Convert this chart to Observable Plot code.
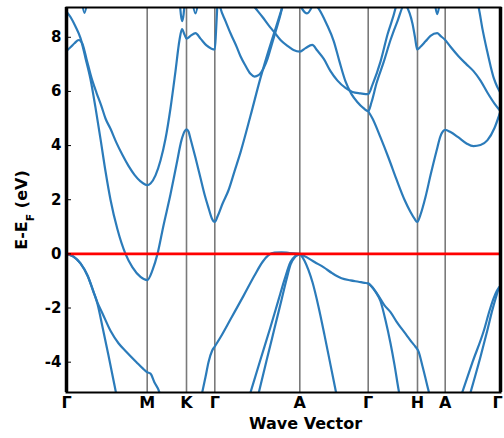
<!DOCTYPE html>
<html>
<head>
<meta charset="utf-8">
<script src="https://cdn.jsdelivr.net/npm/d3@7"></script>
<script src="https://cdn.jsdelivr.net/npm/@observablehq/plot@0.6"></script>
<style>
  html, body { margin: 0; padding: 0; background: #fff; }
  #chart { width: 504px; height: 438px; }
</style>
</head>
<body>
<div id="chart"></div>
<script>
// High-symmetry points along the path (k distance) and their labels
const symK = [0, 80.7, 120, 148.3, 233.3, 301.7, 351, 378.7, 434];
const symLabels = ["Γ", "M", "K", "Γ", "A", "Γ", "H", "A", "Γ"];
const yTicks = [-4, -2, 0, 2, 4, 6, 8];

// Valence bands [k, E-EF]
const band_v1 = [[0,0],[7,-0.1],[14,-0.35],[21,-0.8],[27,-1.4],[31,-1.85],[36,-2.7],[42,-3.75],[48,-4.85],[52,-5.6]];
const band_v2 = [[0,0],[7,-0.1],[14,-0.35],[21,-0.8],[27,-1.4],[31,-1.8],[36,-2.2],[44,-2.84],[52,-3.3],[60,-3.62],[70,-4.0],[76,-4.22],[80.7,-4.37],[84,-4.42],[88,-4.75],[92.3,-5.05],[95,-5.4]];
const band_v3 = [[135.7,-5.12],[139,-4.55],[142,-4.0],[145.7,-3.57],[148.3,-3.42],[154,-3.08],[165,-2.35],[177,-1.55],[188,-0.8],[196,-0.3],[202,-0.05],[208,0.05],[215,0.06],[223,0.03],[233.3,0]];
const band_v4 = [[184,-5.12],[194,-3.9],[204,-2.7],[212,-1.7],[218,-0.95],[224,-0.3],[229,-0.07],[233.3,0]];
const band_v5 = [[192.3,-5.12],[200,-3.95],[208,-2.75],[215,-1.7],[220,-0.95],[224,-0.4],[229,-0.1],[233.3,0]];
const band_v6 = [[233.3,0],[238,-0.25],[242,-0.6],[246,-1.05],[252,-1.95],[258,-3.0],[264,-4.1],[270,-5.2]];
const band_v7 = [[233.3,0],[240,-0.12],[248,-0.3],[257.3,-0.5],[266,-0.72],[275,-0.9],[284,-0.98],[292,-1.03],[298,-1.07],[301.7,-1.09],[305,-1.2],[312,-1.55],[318,-1.9],[324,-2.15],[330,-2.5],[340,-3.0],[345,-3.25],[349,-3.43],[352,-3.6],[356,-4.15],[362,-5.05],[365,-5.5]];
const band_v8 = [[301.7,-1.09],[305,-1.2],[309,-1.4],[314,-1.75],[319,-2.45],[324,-3.3],[328,-4.1],[332,-5.0],[334,-5.4]];
const band_v9 = [[395.7,-5.12],[406,-4.0],[417.3,-2.84],[423,-2.1],[427,-1.65],[430.5,-1.35],[434,-1.18]];
const band_v10 = [[404,-5.12],[414,-3.8],[421,-2.8],[426,-2.05],[429.5,-1.6],[432,-1.3],[434,-1.18]];

// Conduction bands [k, E-EF]
const band_c1 = [[0,8.95],[4,8.75],[9,8.4],[14,7.97],[19,7.23],[24,6.45],[29,5.4],[34,4.25],[39,3.05],[44,2.0],[51,0.9],[59,0.0],[66,-0.5],[74,-0.85],[80.7,-0.97],[86,-0.6],[91,0.0],[97,1.05],[104,2.2],[110,3.3],[115,4.2],[118,4.52],[120,4.6],[122,4.52],[124,4.25],[129,3.55],[134,2.8],[138,2.2],[142,1.7],[145.5,1.3],[148.3,1.18],[151,1.38],[156,1.85],[162,2.35],[168,3.05],[174,3.75],[184,5.1],[194,6.5],[202,7.5],[208,8.2],[214,8.9],[219,9.5]];
const band_c2 = [[0,7.5],[4,7.63],[8,7.78],[12.3,7.9],[15.7,7.78],[20,7.2],[25,6.5],[30,5.95],[35,5.45],[39,5.0],[44,4.62],[50,4.1],[56,3.65],[62,3.25],[68,2.92],[74,2.68],[80.7,2.54],[84,2.6],[89,2.9],[94,3.45],[99,4.25],[104,5.38],[109,6.75],[113,7.9],[115.5,8.3],[118,8.1],[120,7.95],[124,8.05],[129,8.15],[134,7.95],[140,7.7],[145,7.58],[148.3,7.55],[149.5,8.2],[151,9.3]];
const band_c3 = [[152,9.4],[154,9.07],[159,8.6],[164,8.15],[170.7,7.6],[174,7.3],[179,6.95],[184,6.65],[188,6.55],[192,6.6],[197,6.85],[201,7.2],[205,7.7],[209,8.2],[213,8.7],[217,9.3]];
const band_c4 = [[184,9.3],[189,9.07],[196,8.75],[202,8.45],[207.3,8.21],[214,7.9],[221,7.68],[227,7.53],[233.3,7.47],[239,7.6],[245.7,7.72],[251,7.5],[257.3,7.2],[264,6.75],[271,6.4],[279,6.13],[286,5.98],[294,5.93],[301.7,5.9],[306,6.25],[314,7.1],[321,8.1],[329,9.07],[331,9.4]];
const band_c5 = [[246,9.3],[252.3,9.05],[260,8.5],[267.3,7.85],[273,7.1],[279,6.37],[285,5.9],[291,5.6],[297,5.38],[301.7,5.27],[305,5.6],[310,6.3],[317.3,7.1],[324,7.9],[331,8.6],[338,9.2],[343,8.9],[346,8.5],[348.5,8.0],[350.7,7.55],[354,7.65],[359,7.85],[364,8.05],[370.7,8.15],[374,8.05],[378.7,7.9],[384,7.65],[392,7.3],[400,7.0],[407,6.75],[414,6.4],[421,5.95],[428,5.55],[434,5.27]];
const band_c6 = [[301.7,5.27],[306,5.0],[314,4.3],[322,3.55],[330,2.75],[338,2.0],[344,1.55],[348,1.3],[350.7,1.18],[354,1.45],[359,2.1],[364,2.9],[370,3.8],[374,4.35],[378.7,4.58],[384,4.5],[392,4.3],[400,4.08],[407,3.98],[414,4.02],[421,4.2],[428,4.65],[434,5.27]];
const band_c7 = [[410,9.4],[412.3,9.07],[416,8.3],[420.7,7.48],[424,6.95],[427.3,6.49],[431,6.15],[434,5.94]];
// small band pockets touching the top of the window
const band_t1 = [[15,9.4],[18,8.9],[21,9.4]];
const band_t2 = [[113,9.4],[115.7,8.6],[118.5,9.4]];
const band_t3 = [[125.5,9.4],[129,8.88],[132,9.4]];
const band_t4 = [[232,9.3],[240.5,8.88],[247.5,9.3]];
const band_t5 = [[368,9.35],[370.7,8.85],[373.5,9.35]];

const bandList = [band_v1, band_v2, band_v3, band_v4, band_v5, band_v6, band_v7, band_v8, band_v9, band_v10,
  band_c1, band_c2, band_c3, band_c4, band_c5, band_c6, band_c7,
  band_t1, band_t2, band_t3, band_t4, band_t5];

const rows = bandList.flatMap((b, i) => b.map(([k, e]) => ({band: i, k, e})));

const font = "DejaVu Sans";
const blue = "#2b7bba";
const lastIdx = symK.length - 1;

const chart = Plot.plot({
  width: 504,
  height: 438,
  marginLeft: 66,
  marginRight: 4,
  marginTop: 7,
  marginBottom: 46,
  style: {fontFamily: font, background: "#fff", color: "#000"},
  x: {domain: [symK[0], symK[lastIdx]], axis: null},
  y: {domain: [-5.12, 9.1], axis: null},
  marks: [
    Plot.ruleX(symK.slice(1, -1), {stroke: "#7a7a7a", strokeWidth: 1.6}),
    Plot.line(rows, {x: "k", y: "e", z: "band", stroke: blue, strokeWidth: 2.2, curve: "monotone-x", clip: true}),
    Plot.ruleY([0], {stroke: "#ff0000", strokeWidth: 2.6}),
    Plot.frame({stroke: "#000", strokeWidth: 2}),
    Plot.ruleX([symK[0], symK[lastIdx]], {stroke: "#000", strokeWidth: 3.5}),
    Plot.axisY(yTicks, {anchor: "left", tickSize: 0, tickPadding: 5, fontSize: 15, fontWeight: "bold", label: null, tickFormat: d => `${d}`}),
    Plot.axisY(yTicks, {anchor: "left", tickSize: 5, dx: 5, tickFormat: () => "", label: null, stroke: "#000"}),
    Plot.text(symK.slice(0, lastIdx), {x: d => d, text: (d, i) => symLabels[i], frameAnchor: "bottom", dy: 15, fontSize: 16, fontWeight: "bold", fill: "#000"}),
    Plot.text([symK[lastIdx]], {x: d => d, text: () => symLabels[lastIdx], frameAnchor: "bottom", dy: 15, dx: -3, fontSize: 16, fontWeight: "bold", fill: "#000"}),
    Plot.text(["Wave Vector"], {frameAnchor: "bottom", dy: 36, dx: 22, fontSize: 16, fontWeight: "bold", fill: "#000"})
  ]
});

document.getElementById("chart").appendChild(chart);

// Y axis label with subscript F
const svg = d3.select(chart);
const yl = svg.append("text")
  .attr("transform", "translate(21,210) rotate(-90)")
  .attr("text-anchor", "middle")
  .attr("dy", "0.35em")
  .attr("font-family", font)
  .attr("font-size", 16)
  .attr("font-weight", "bold")
  .attr("fill", "#000");
yl.append("tspan").text("E-E");
yl.append("tspan").attr("baseline-shift", "sub").attr("font-size", 11).text("F");
yl.append("tspan").text(" (eV)");
</script>
</body>
</html>
